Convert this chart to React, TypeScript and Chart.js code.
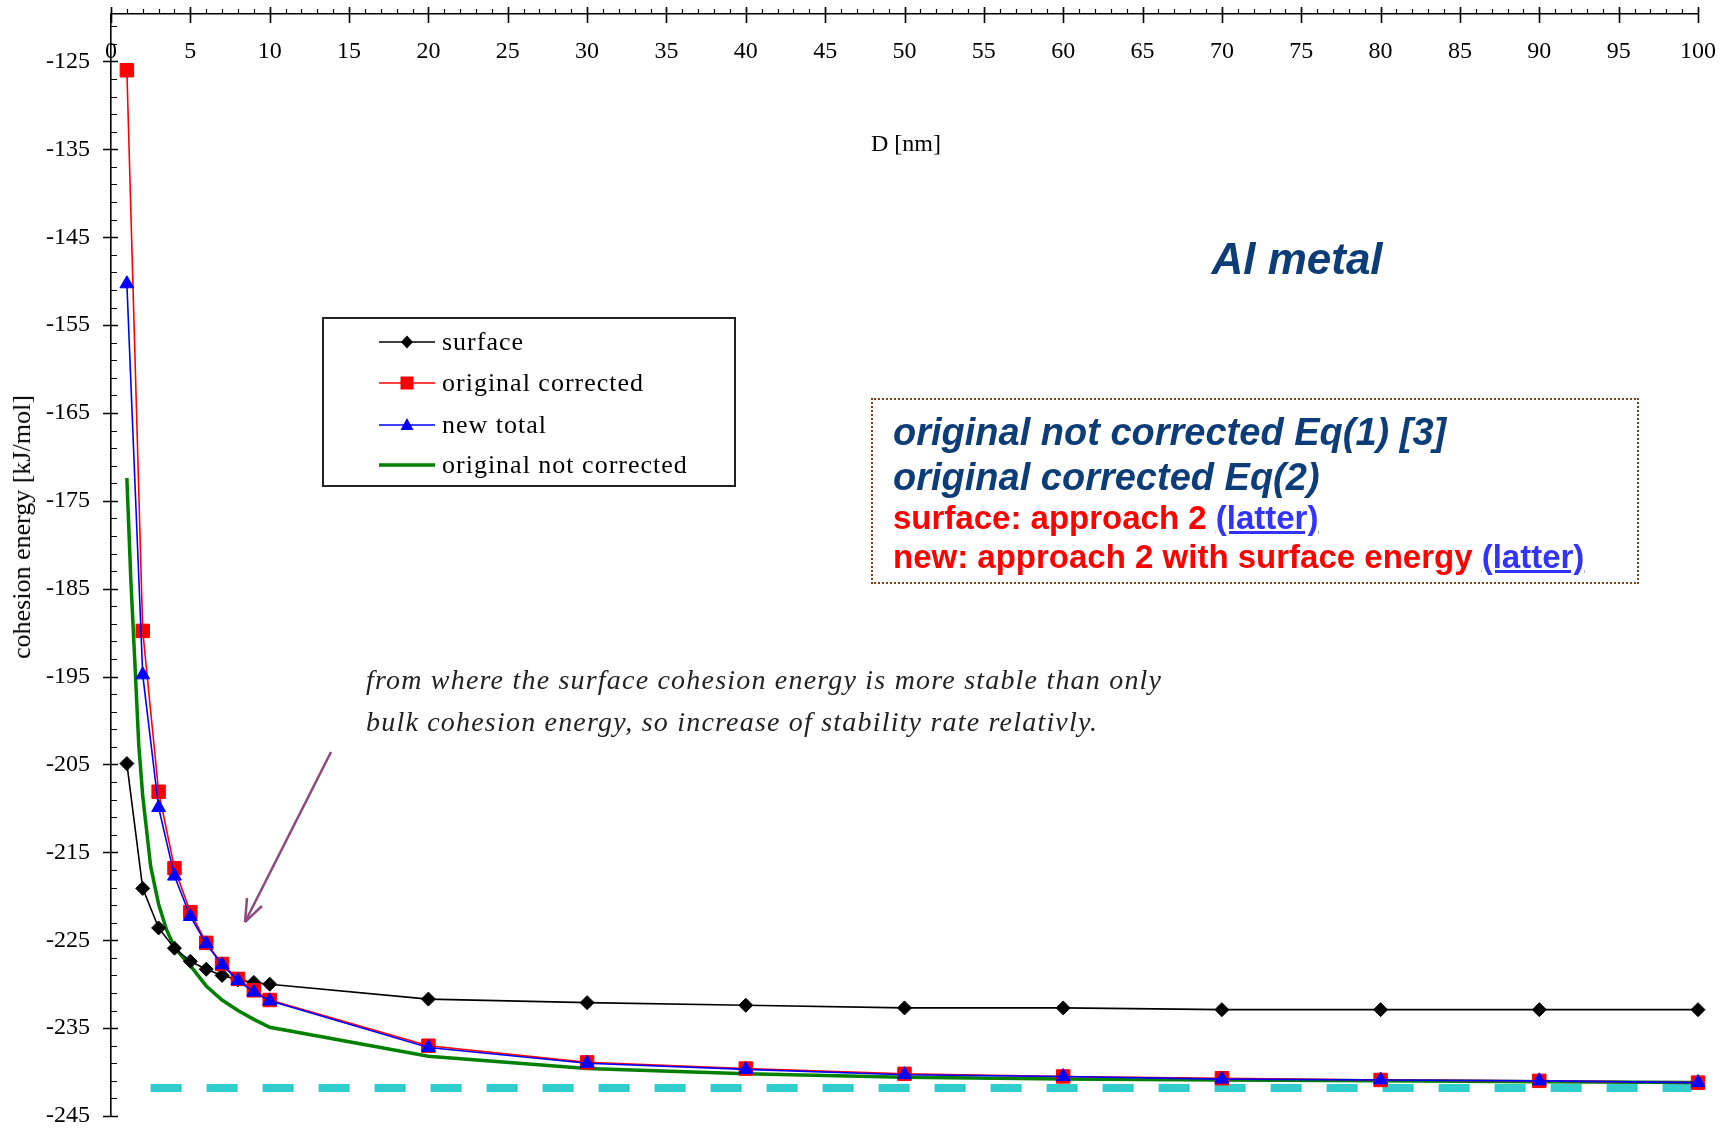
import React, { useEffect, useRef } from 'react';
import { Chart, registerables } from 'chart.js';

Chart.register(...registerables);

// ---- data ----
const xPoints = [1, 2, 3, 4, 5, 6, 7, 8, 9, 10, 20, 30, 40, 50, 60, 70, 80, 90, 100];
const surface = [-204.9, -219.1, -223.6, -225.9, -227.4, -228.3, -229.0, -229.5, -229.8, -230.0, -231.7, -232.1, -232.4, -232.7, -232.7, -232.9, -232.9, -232.9, -232.9];
const originalCorrected = [-126.0, -189.8, -208.1, -216.8, -221.8, -225.3, -227.7, -229.4, -230.7, -231.8, -237.0, -238.9, -239.6, -240.2, -240.5, -240.7, -240.9, -241.0, -241.2];
const newTotal = [-150.3, -194.8, -209.9, -217.7, -222.3, -225.4, -227.8, -229.6, -230.9, -231.9, -237.2, -239.0, -239.7, -240.3, -240.5, -240.8, -240.9, -241.0, -241.2];
const notCorrectedX = [1, 1.25, 1.5, 1.75, 2, 2.5, 3, 3.5, 4, 4.5, 5, 6, 7, 8, 9, 10, 20, 30, 40, 50, 60, 70, 80, 90, 100];
const notCorrected = [-172.4, -184.0, -193.3, -202.8, -208.6, -216.6, -220.9, -223.8, -225.8, -226.9, -227.9, -230.2, -231.8, -233.0, -234.0, -234.9, -238.2, -239.6, -240.2, -240.6, -240.8, -240.9, -241.0, -241.1, -241.2];
const bulkX = [2.5, 99.6];
const bulkLevel = [-241.8, -241.8];

const xTickLabels = [0, 5, 10, 15, 20, 25, 30, 35, 40, 45, 50, 55, 60, 65, 70, 75, 80, 85, 90, 95, 100];
const yTickLabels = [-245, -235, -225, -215, -205, -195, -185, -175, -165, -155, -145, -135, -125];
const X_MIN = 0;
const X_MAX = 100;
const Y_MIN = -245;
const Y_MAX = -119.6;

const pts = (xs: number[], ys: number[]) => xs.map((x, i) => ({ x, y: ys[i] }));

const axisTicksPlugin = {
  id: 'axisTicks',
  afterDraw(chart: any) {
    const { ctx, chartArea, scales } = chart;
    const xs = scales.x;
    const ys = scales.y;
    const top = chartArea.top;
    const left = chartArea.left;
    ctx.save();
    ctx.strokeStyle = '#000';
    // minor ticks
    ctx.lineWidth = 1.2;
    ctx.beginPath();
    for (let v = X_MIN; v <= X_MAX; v += 1) {
      const px = Math.round(xs.getPixelForValue(v)) + 0.5;
      ctx.moveTo(px, top);
      ctx.lineTo(px, top - 5);
    }
    for (let v = Y_MIN; v < Y_MAX; v += 2) {
      const py = Math.round(ys.getPixelForValue(v)) + 0.5;
      ctx.moveTo(left, py);
      ctx.lineTo(left + 6, py);
    }
    ctx.stroke();
    // major ticks
    ctx.lineWidth = 1.6;
    ctx.beginPath();
    for (const v of xTickLabels) {
      const px = Math.round(xs.getPixelForValue(v)) + 0.5;
      ctx.moveTo(px, top - 7);
      ctx.lineTo(px, top + 9);
    }
    for (const v of yTickLabels) {
      const py = Math.round(ys.getPixelForValue(v)) + 0.5;
      ctx.moveTo(left - 8, py);
      ctx.lineTo(left + 7, py);
    }
    ctx.stroke();
    ctx.restore();
  },
};

const serif = "'Liberation Serif', 'Times New Roman', serif";
const sans = "'Liberation Sans', Arial, sans-serif";

function Swatch({ kind }: { kind: string }) {
  const w = 56;
  const h = 24;
  const cy = h / 2;
  const cx = w / 2;
  let color = '#000';
  let marker: any = null;
  let sw = 1.6;
  if (kind === 'surface') {
    color = '#000';
    marker = <polygon points={`${cx},${cy - 6.5} ${cx + 6},${cy} ${cx},${cy + 6.5} ${cx - 6},${cy}`} fill="#000" />;
  } else if (kind === 'corrected') {
    color = '#FF0000';
    marker = <rect x={cx - 6.5} y={cy - 6.5} width={13} height={13} fill="#FF0000" />;
  } else if (kind === 'new') {
    color = '#0000FF';
    marker = <polygon points={`${cx},${cy - 7} ${cx + 6.5},${cy + 5} ${cx - 6.5},${cy + 5}`} fill="#0000FF" />;
  } else {
    color = '#008000';
    sw = 3.5;
  }
  return (
    <svg width={w} height={h} style={{ position: 'absolute', left: 0, top: 0 }}>
      <line x1={0} y1={cy} x2={w} y2={cy} stroke={color} strokeWidth={sw} />
      {marker}
    </svg>
  );
}

const legendRows = [
  { kind: 'surface', text: 'surface', cy: 342 },
  { kind: 'corrected', text: 'original corrected', cy: 383 },
  { kind: 'new', text: 'new total', cy: 425 },
  { kind: 'notcorrected', text: 'original not corrected', cy: 465 },
];

export default function App() {
  const canvasRef = useRef<HTMLCanvasElement | null>(null);

  useEffect(() => {
    document.body.style.margin = '0';
    document.body.style.overflow = 'hidden';
    const canvas = canvasRef.current;
    if (!canvas) return;
    const chart = new Chart(canvas, {
      type: 'line',
      data: {
        datasets: [
          {
            label: 'new total',
            data: pts(xPoints, newTotal),
            borderColor: '#0000FF',
            backgroundColor: '#0000FF',
            borderWidth: 1.6,
            pointStyle: 'triangle',
            pointRadius: 8,
            pointBorderWidth: 1,
            pointBorderColor: '#0000FF',
            tension: 0,
            clip: false as any,
            order: 0,
          },
          {
            label: 'original corrected',
            data: pts(xPoints, originalCorrected),
            borderColor: '#FF0000',
            backgroundColor: '#FF0000',
            borderWidth: 1.6,
            pointStyle: 'rect',
            pointRadius: 9.5,
            pointBorderWidth: 1,
            pointBorderColor: '#FF0000',
            tension: 0,
            clip: false as any,
            order: 1,
          },
          {
            label: 'surface',
            data: pts(xPoints, surface),
            borderColor: '#000000',
            backgroundColor: '#000000',
            borderWidth: 1.6,
            pointStyle: 'rectRot',
            pointRadius: 7,
            pointBorderWidth: 1,
            pointBorderColor: '#000000',
            tension: 0,
            clip: false as any,
            order: 2,
          },
          {
            label: 'original not corrected',
            data: pts(notCorrectedX, notCorrected),
            borderColor: '#008000',
            backgroundColor: '#008000',
            borderWidth: 3.5,
            pointRadius: 0,
            tension: 0,
            clip: false as any,
            order: 3,
          },
          {
            label: 'bulk',
            data: pts(bulkX, bulkLevel),
            borderColor: '#33CCCC',
            backgroundColor: '#33CCCC',
            borderWidth: 8,
            borderDash: [31, 25],
            borderCapStyle: 'butt',
            pointRadius: 0,
            tension: 0,
            order: 4,
          },
        ],
      },
      options: {
        animation: false,
        responsive: false,
        maintainAspectRatio: false,
        events: [],
        layout: { padding: { top: 14, right: 30, bottom: 14, left: 0 } },
        plugins: {
          legend: { display: false },
          tooltip: { enabled: false },
        },
        scales: {
          x: {
            type: 'linear',
            min: X_MIN,
            max: X_MAX,
            position: { y: Y_MAX } as any,
            afterFit: (scale: any) => {
              scale.height = 0;
              scale.paddingLeft = 0;
              scale.paddingRight = 0;
              scale.paddingTop = 0;
              scale.paddingBottom = 0;
            },
            afterBuildTicks: (scale: any) => {
              scale.ticks = xTickLabels.map((v) => ({ value: v }));
            },
            grid: { display: true, drawOnChartArea: false, drawTicks: false, lineWidth: 1.5, color: '#000' },
            border: { display: true, color: '#000', width: 1.6 },
            ticks: {
              autoSkip: false,
              maxRotation: 0,
              minRotation: 0,
              padding: 23,
              color: '#000',
              font: { family: serif, size: 24 },
              callback: (v: any) => String(v),
            },
          },
          y: {
            type: 'linear',
            min: Y_MIN,
            max: Y_MAX,
            position: 'left',
            afterFit: (scale: any) => {
              scale.width = 111;
              scale.paddingTop = 0;
              scale.paddingBottom = 0;
              scale.paddingLeft = 0;
              scale.paddingRight = 0;
            },
            afterBuildTicks: (scale: any) => {
              scale.ticks = yTickLabels.map((v) => ({ value: v }));
            },
            grid: { display: true, drawOnChartArea: false, drawTicks: false, lineWidth: 1.5, color: '#000' },
            border: { display: true, color: '#000', width: 1.6 },
            ticks: {
              autoSkip: false,
              padding: 21,
              color: '#000',
              font: { family: serif, size: 24 },
              callback: (v: any) => String(v),
            },
          },
        },
      },
      plugins: [axisTicksPlugin],
    });
    return () => {
      chart.destroy();
    };
  }, []);

  const abs = (o: any) => ({ position: 'absolute', whiteSpace: 'nowrap', ...o });

  return (
    <div style={{ position: 'absolute', left: 0, top: 0, width: 1728, height: 1130, background: '#fff', overflow: 'hidden' }}>
      <canvas ref={canvasRef} width={1728} height={1130} style={{ position: 'absolute', left: 0, top: 0, width: 1728, height: 1130 }} />

      {/* axis titles */}
      <div style={abs({ left: 906, top: 143, transform: 'translate(-50%, -50%)', fontFamily: serif, fontSize: 24, color: '#000', lineHeight: '28px' })}>D [nm]</div>
      <div style={abs({ left: 22, top: 527, transform: 'translate(-50%, -50%) rotate(-90deg)', fontFamily: serif, fontSize: 26, color: '#000', lineHeight: '28px' })}>cohesion energy [kJ/mol]</div>

      {/* Al metal */}
      <div style={abs({ left: 1297, top: 259, transform: 'translate(-50%, -50%)', fontFamily: sans, fontSize: 44, fontWeight: 'bold', fontStyle: 'italic', color: '#0d3d78', lineHeight: '50px' })}>Al metal</div>

      {/* legend */}
      <div style={abs({ left: 322, top: 317, width: 414, height: 170, border: '2px solid #222', boxSizing: 'border-box' })} />
      {legendRows.map((r) => (
        <React.Fragment key={r.kind}>
          <div style={abs({ left: 379, top: r.cy - 12, width: 56, height: 24 })}>
            <Swatch kind={r.kind} />
          </div>
          <div style={abs({ left: 442, top: r.cy - 16, height: 32, lineHeight: '32px', fontFamily: serif, fontSize: 26, letterSpacing: '1px', color: '#000' })}>{r.text}</div>
        </React.Fragment>
      ))}

      {/* dotted note box */}
      <div style={abs({ left: 871, top: 398, width: 768, height: 186, border: '2px dotted #8B3A1A', boxSizing: 'border-box' })} />
      <div style={abs({ left: 893, top: 432 - 22, height: 44, lineHeight: '44px', fontFamily: sans, fontSize: 38, fontStyle: 'italic', fontWeight: 'bold', color: '#0d3d78' })}>original not corrected Eq(1) [3]</div>
      <div style={abs({ left: 893, top: 477 - 22, height: 44, lineHeight: '44px', fontFamily: sans, fontSize: 38, fontStyle: 'italic', fontWeight: 'bold', color: '#0d3d78' })}>original corrected Eq(2)</div>
      <div style={abs({ left: 893, top: 518 - 19, height: 38, lineHeight: '38px', fontFamily: sans, fontSize: 33, fontWeight: 'bold', color: '#FF0000' })}>
        surface: approach 2 <span style={{ color: '#3333FF', textDecoration: 'underline' }}>(latter)</span>
      </div>
      <div style={abs({ left: 893, top: 557 - 19, height: 38, lineHeight: '38px', fontFamily: sans, fontSize: 33, fontWeight: 'bold', color: '#FF0000' })}>
        new: approach 2 with surface energy <span style={{ color: '#3333FF', textDecoration: 'underline' }}>(latter)</span>
      </div>

      {/* annotation */}
      <div style={abs({ left: 366, top: 680 - 17, height: 34, lineHeight: '34px', fontFamily: serif, fontSize: 28, fontStyle: 'italic', letterSpacing: '1.2px', color: '#222' })}>from where the surface cohesion energy is more stable than only</div>
      <div style={abs({ left: 366, top: 722 - 17, height: 34, lineHeight: '34px', fontFamily: serif, fontSize: 28, fontStyle: 'italic', letterSpacing: '1.2px', color: '#222' })}>bulk cohesion energy, so increase of stability rate relativly.</div>

      {/* arrow */}
      <svg width={1728} height={1130} style={{ position: 'absolute', left: 0, top: 0, pointerEvents: 'none' }}>
        <line x1={331} y1={752} x2={245} y2={922} stroke="#8E4A7E" strokeWidth={2.5} />
        <line x1={245} y1={922} x2={247} y2={898} stroke="#8E4A7E" strokeWidth={2.5} />
        <line x1={245} y1={922} x2={262} y2={906} stroke="#8E4A7E" strokeWidth={2.5} />
      </svg>
    </div>
  );
}
